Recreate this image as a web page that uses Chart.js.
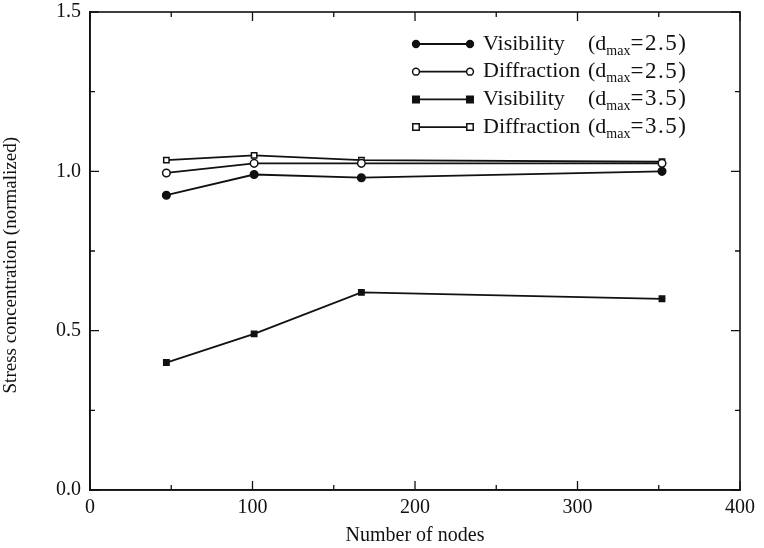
<!DOCTYPE html>
<html>
<head>
<meta charset="utf-8">
<script src="https://cdn.jsdelivr.net/npm/chart.js@4/dist/chart.umd.min.js"></script>
<style>
	html, body { margin: 0; padding: 0; background: #fff; }
	#wrap { width: 764px; height: 548px; position: relative; }
</style>
</head>
<body>
<div id="wrap"><canvas id="stressChart"></canvas></div>
<script>
const nodes = [47, 101, 167, 352];
const visibility25 = [0.925, 0.99, 0.98, 1.0];
const diffraction25 = [0.995, 1.025, 1.025, 1.025];
const visibility35 = [0.40, 0.49, 0.62, 0.60];
const diffraction35 = [1.035, 1.05, 1.035, 1.03];

const seriesNames = ['Visibility', 'Diffraction', 'Visibility', 'Diffraction'];
const seriesDmax = ['2.5', '2.5', '3.5', '3.5'];

const xTickLabels = [0, 100, 200, 300, 400];
const yTickLabels = [0.0, 0.5, 1.0, 1.5];

const serif = '"Liberation Serif", "DejaVu Serif", serif';
const ink = '#111';

const toPoints = (vals) => nodes.map((n, i) => ({ x: n, y: vals[i] }));

const makeSet = (vals, style, filled, i) => ({
	label: seriesNames[i] + ' (dmax=' + seriesDmax[i] + ')',
	data: toPoints(vals),
	borderColor: ink,
	borderWidth: 1.8,
	pointStyle: style,
	pointRadius: 3.8,
	pointBorderWidth: 1.5,
	pointBorderColor: ink,
	pointBackgroundColor: filled ? ink : '#fff',
	fill: false,
	tension: 0
});

// inward ticks on all four sides plus the closing frame
const frameTicks = {
	id: 'frameTicks',
	afterDraw(chart) {
		const { ctx, chartArea: a, scales: { x, y } } = chart;
		ctx.save();
		ctx.strokeStyle = ink;
		ctx.lineWidth = 1.6;
		ctx.strokeRect(a.left, a.top, a.right - a.left, a.bottom - a.top);
		ctx.lineWidth = 1.3;
		for (let v = 0; v <= 1.5001; v += 0.25) {
			const py = y.getPixelForValue(v);
			const len = Math.abs(v * 2 - Math.round(v * 2)) < 1e-6 ? 9 : 5;
			ctx.beginPath();
			ctx.moveTo(a.left, py); ctx.lineTo(a.left + len, py);
			ctx.moveTo(a.right, py); ctx.lineTo(a.right - len, py);
			ctx.stroke();
		}
		for (let v = 0; v <= 400; v += 50) {
			const px = x.getPixelForValue(v);
			const len = v % 100 === 0 ? 9 : 5;
			ctx.beginPath();
			ctx.moveTo(px, a.bottom); ctx.lineTo(px, a.bottom - len);
			ctx.moveTo(px, a.top); ctx.lineTo(px, a.top + len);
			ctx.stroke();
		}
		ctx.restore();
	}
};

const drawMarker = (ctx, ds, px, py) => {
	ctx.beginPath();
	if (ds.pointStyle === 'rect') {
		const r = ds.pointRadius * 0.85;
		ctx.rect(px - r, py - r, r * 2, r * 2);
	} else {
		ctx.arc(px, py, ds.pointRadius * 0.9, 0, Math.PI * 2);
	}
	ctx.fillStyle = ds.pointBackgroundColor;
	ctx.fill();
	ctx.lineWidth = ds.pointBorderWidth;
	ctx.strokeStyle = ds.pointBorderColor;
	ctx.stroke();
};

// legend with marker - line - marker and the d_max subscript
const subLegend = {
	id: 'subLegend',
	afterDraw(chart) {
		const ctx = chart.ctx;
		ctx.save();
		chart.data.datasets.forEach((ds, i) => {
			const ly = 44 + i * 27.7;
			ctx.strokeStyle = ink;
			ctx.lineWidth = ds.borderWidth;
			ctx.beginPath();
			ctx.moveTo(416, ly); ctx.lineTo(470, ly);
			ctx.stroke();
			drawMarker(ctx, ds, 416, ly);
			drawMarker(ctx, ds, 470, ly);

			ctx.fillStyle = ink;
			ctx.textBaseline = 'middle';
			ctx.textAlign = 'left';
			ctx.font = '22px ' + serif;
			ctx.fillText(seriesNames[i], 483, ly);
			let tx = 588;
			ctx.fillText('(d', tx, ly);
			tx += ctx.measureText('(d').width;
			ctx.font = '14px ' + serif;
			ctx.fillText('max', tx, ly + 7);
			tx += ctx.measureText('max').width;
			ctx.font = '23px ' + serif;
			ctx.letterSpacing = '1.5px';
			ctx.fillText('=' + seriesDmax[i] + ')', tx, ly);
			ctx.letterSpacing = '0px';
		});
		ctx.restore();
	}
};

document.addEventListener('DOMContentLoaded', () => {
	const canvas = document.getElementById('stressChart');

	new Chart(canvas.getContext('2d'), {
		type: 'line',
		data: {
			datasets: [
				makeSet(visibility25, 'circle', true, 0),
				makeSet(diffraction25, 'circle', false, 1),
				makeSet(visibility35, 'rect', true, 2),
				makeSet(diffraction35, 'rect', false, 3)
			]
		},
		options: {
			responsive: true,
			maintainAspectRatio: false,
			animation: false,
			layout: { padding: { top: 12, right: 24, left: 0, bottom: 0 } },
			scales: {
				x: {
					type: 'linear',
					min: 0,
					max: 400,
					afterBuildTicks: (s) => { s.ticks = xTickLabels.map(v => ({ value: v })); },
					afterFit: (s) => { s.height = 58; },
					grid: { display: false, drawTicks: false },
					border: { display: true, color: ink, width: 1.6 },
					ticks: {
						color: ink,
						padding: 6,
						maxRotation: 0,
						font: { family: serif, size: 20 }
					},
					title: {
						display: true,
						text: 'Number of nodes',
						color: ink,
						padding: { top: 4, bottom: 0 },
						font: { family: serif, size: 20 }
					}
				},
				y: {
					min: 0,
					max: 1.5,
					afterBuildTicks: (s) => { s.ticks = yTickLabels.map(v => ({ value: v })); },
					afterFit: (s) => { s.width = 90; s.paddingTop = 0; s.paddingBottom = 0; },
					grid: { display: false, drawTicks: false },
					border: { display: true, color: ink, width: 1.6 },
					ticks: {
						color: ink,
						padding: 9,
						font: { family: serif, size: 20 },
						callback: (v) => Number(v).toFixed(1)
					},
					title: {
						display: true,
						text: 'Stress concentration (normalized)\u00a0\u00a0\u00a0\u00a0\u00a0\u00a0',
						color: ink,
						padding: { top: 0, bottom: 4 },
						font: { family: serif, size: 19 }
					}
				}
			},
			plugins: {
				legend: { display: false },
				tooltip: { enabled: false }
			}
		},
		plugins: [frameTicks, subLegend]
	});
});
</script>
</body>
</html>
